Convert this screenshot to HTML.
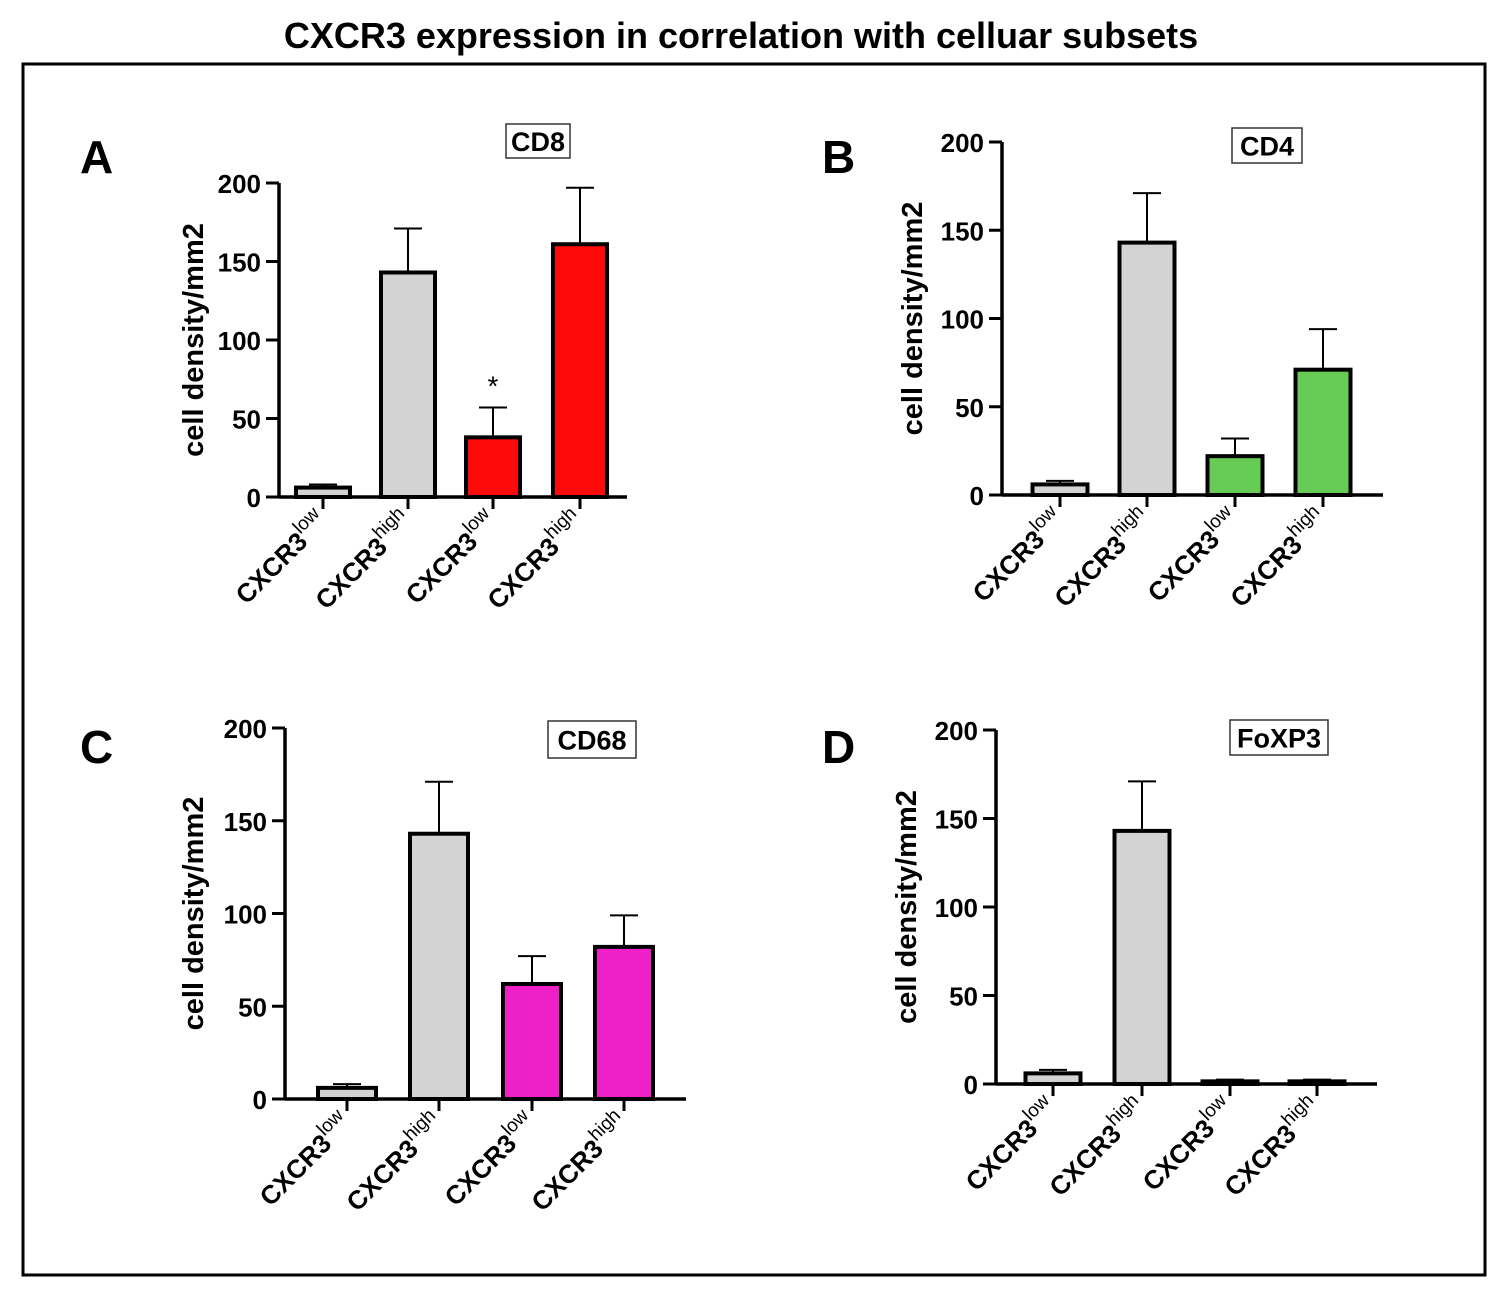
<!DOCTYPE html>
<html><head><meta charset="utf-8"><style>
body{margin:0;background:#fff}
svg{display:block;font-family:"Liberation Sans",Arial,sans-serif}
</style></head><body>
<svg id="fig" width="1508" height="1299" viewBox="0 0 1508 1299">
<text x="741" y="48" text-anchor="middle" font-size="36" font-weight="bold">CXCR3 expression in correlation with celluar subsets</text>
<rect x="23" y="64" width="1462" height="1211" fill="none" stroke="#000" stroke-width="3"/>
</svg>
<script>
const categories = ["low","high","low","high"];
const valuesA = [6,143,38,161];
const errorsA = [8,171,57,197];
const valuesB = [6,143,22,71];
const errorsB = [8,171,32,94];
const valuesC = [6,143,62,82];
const errorsC = [8,171,77,99];
const valuesD = [6,143,1.5,1.5];
const errorsD = [8,171,2.5,2.5];
const yTicks = [0,50,100,150,200];

const NS="http://www.w3.org/2000/svg";
const svg=document.getElementById('fig');
function mk(tag,attrs,parent,text){const e=document.createElementNS(NS,tag);for(const k in attrs)e.setAttribute(k,attrs[k]);if(text!==undefined)e.textContent=text;(parent||svg).appendChild(e);return e;}

const panels=[
 {id:'a',letter:'A',lx:80,ly:173,ax:279,x1:627,y0:497,y200:183,centers:[323,408,493,580],bw:54,vals:valuesA,errs:errorsA,col:'#ff0a0a',title:'CD8',tb:[506,124,64,34],ylx:203,star:true},
 {id:'b',letter:'B',lx:822,ly:173,ax:1002,x1:1383,y0:495,y200:142,centers:[1060,1147,1235,1323],bw:55,vals:valuesB,errs:errorsB,col:'#66cc55',title:'CD4',tb:[1232,128,70,35],ylx:922},
 {id:'c',letter:'C',lx:80,ly:763,ax:285,x1:686,y0:1099,y200:728,centers:[347,439,532,624],bw:58,vals:valuesC,errs:errorsC,col:'#f020c8',title:'CD68',tb:[548,721,88,37],ylx:203},
 {id:'d',letter:'D',lx:822,ly:763,ax:996,x1:1377,y0:1084,y200:730,centers:[1053,1142,1230,1317],bw:55,vals:valuesD,errs:errorsD,col:'#e020c0',title:'FoXP3',tb:[1230,720,98,35],ylx:916},
];
panels.forEach(p=>{
 const g=mk('g',{});
 
 
 const y=v=>p.y0-(v/200)*(p.y0-p.y200);
 const t=mk('text',{x:p.lx,y:p.ly,'font-size':46,'font-weight':'bold'},g,p.letter);
 
 
 const tb=mk('rect',{x:p.tb[0],y:p.tb[1],width:p.tb[2],height:p.tb[3],fill:'#fff',stroke:'#333','stroke-width':1.5},g);
 
 
 const tt=mk('text',{x:p.tb[0]+p.tb[2]/2,y:p.tb[1]+p.tb[3]/2+10,'text-anchor':'middle','font-size':27,'font-weight':'bold'},g,p.title);
 
 
 const yl=mk('text',{x:0,y:0,transform:`translate(${p.ylx},${(p.y0+p.y200)/2}) rotate(-90)`,'text-anchor':'middle','font-size':29,'font-weight':'bold'},g,'cell density/mm2');
 
 
 p.vals.forEach((v,i)=>{
  const cx=p.centers[i];
  const fill=i<2?'#d3d3d3':p.col;
  const e=mk('line',{x1:cx,x2:cx,y1:y(v),y2:y(p.errs[i]),stroke:'#000','stroke-width':2},g);
  
  
  const c=mk('line',{x1:cx-14,x2:cx+14,y1:y(p.errs[i]),y2:y(p.errs[i]),stroke:'#000','stroke-width':2},g);
  
  
  const r=mk('rect',{x:cx-p.bw/2,y:y(v),width:p.bw,height:Math.max(p.y0-y(v),0.5),fill:fill,stroke:'#000','stroke-width':4},g);
  
  
  const tk=mk('line',{x1:cx,x2:cx,y1:p.y0,y2:p.y0+12,stroke:'#000','stroke-width':3},g);
  
  
  const lb=mk('text',{x:0,y:0,transform:`translate(${cx+6},${p.y0+26}) rotate(-45)`,'text-anchor':'end','font-size':26,'font-weight':'bold'},g);
  
  
  mk('tspan',{},lb,'CXCR3');
  mk('tspan',{dy:-12,'font-size':19,'font-weight':'normal'},lb,categories[i]);
 });
 if(p.star){const s=mk('text',{x:p.centers[2],y:y(p.errs[2])-12,'text-anchor':'middle','font-size':28},g,'*');
  
  }
 const xa=mk('line',{x1:p.ax,x2:p.x1,y1:p.y0,y2:p.y0,stroke:'#000','stroke-width':3.5},g);
 
 
 const ya=mk('line',{x1:p.ax,x2:p.ax,y1:p.y200,y2:p.y0+1.5,stroke:'#000','stroke-width':3.5},g);
 
 
 yTicks.forEach(v=>{
  const l=mk('line',{x1:p.ax-13,x2:p.ax,y1:y(v),y2:y(v),stroke:'#000','stroke-width':3},g);
  
  
  const tx=mk('text',{x:p.ax-18,y:y(v)+10,'text-anchor':'end','font-size':26,'font-weight':'bold'},g,String(v));
  
  
 });
});
</script>
</body></html>
